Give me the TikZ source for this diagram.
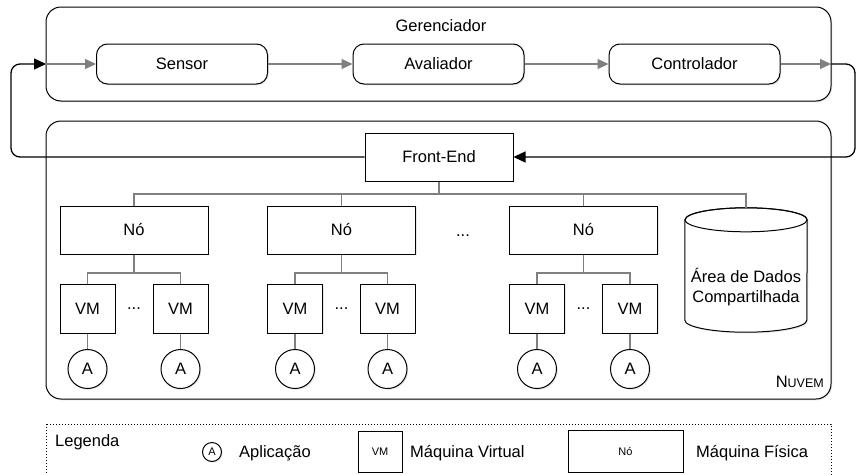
\documentclass[tikz,border=0pt]{standalone}
\usepackage{fontspec}
\setmainfont{Liberation Sans}
\usetikzlibrary{arrows.meta,shadows}
\begin{document}
\begin{tikzpicture}[x=1pt,y=-1pt,
  font=\fontsize{16.5}{20}\selectfont,
  shade/.style={drop shadow={shadow xshift=1.3pt,shadow yshift=-1.3pt,opacity=0.18}},
  box/.style={draw, line width=1pt, fill=white, shade, inner sep=0pt},
  rbox/.style={box, rounded corners=11pt, minimum width=171pt, minimum height=40pt},
  nodebox/.style={box, minimum width=148pt, minimum height=48pt},
  vmbox/.style={box, minimum width=55pt, minimum height=49pt},
  app/.style={box, circle, minimum size=39pt},
  link/.style={draw=black!50, line width=1.1pt},
  garrow/.style={link, -{Triangle[length=11pt,width=10pt]}},
  barrow/.style={draw=black, line width=1.3pt, rounded corners=9pt, -{Triangle[length=12pt,width=11pt]}},
  frame/.style={draw, line width=1pt, rounded corners=15pt, fill=white, shade},
  small/.style={font=\fontsize{11}{13}\selectfont},
]
\useasboundingbox (0,0) rectangle (856,474);

% frames
\draw[frame] (46,7) rectangle (831,101);
\draw[frame] (46,121) rectangle (831,399);
\draw[line width=1pt, dash pattern=on 1.4pt off 1.6pt] (46,424) rectangle (831,492);

% Gerenciador
\node (ger) at (441,26) {Gerenciador};
\node[rbox] (sensor) at (182,64) {Sensor};
\node[rbox] (aval) at (438.5,64) {Avaliador};
\node[rbox] (ctrl) at (694.5,64) {Controlador};
\coordinate (gL) at (46,64);
\coordinate (gR) at (831,64);

% Nuvem
\node[box, minimum width=148pt, minimum height=48pt] (fe) at (439,157) {Front-End};
\node[nodebox] (n1) at (134,230) {Nó};
\node[nodebox] (n2) at (341.5,230) {Nó};
\node[nodebox] (n3) at (583.5,230) {Nó};
\node (d0) at (463,236) {...};

% shared data area (cylinder)
\node[minimum width=122pt, minimum height=124pt, inner sep=0pt] (dados) at (746,270) {};
\path[draw, line width=1pt, fill=white, shade]
  ([yshift=-12pt]dados.north west) -- ([yshift=12pt]dados.south west)
  arc[start angle=180, end angle=360, x radius=61pt, y radius=12pt]
  -- ([yshift=-12pt]dados.north east)
  arc[start angle=0, end angle=180, x radius=61pt, y radius=12pt] -- cycle;
\draw[line width=1pt] ([yshift=-12pt]dados.north) ellipse [x radius=61pt, y radius=12pt];
\node[align=center] (dadostxt) at (746,287) {Área de Dados\\Compartilhada};

\node[vmbox] (vm1) at (87.5,308.5) {VM};
\node[vmbox] (vm2) at (180.5,308.5) {VM};
\node[vmbox] (vm3) at (295,308.5) {VM};
\node[vmbox] (vm4) at (387.5,308.5) {VM};
\node[vmbox] (vm5) at (537,308.5) {VM};
\node[vmbox] (vm6) at (630,308.5) {VM};
\node (d1) at (134,308.5) {...};
\node (d2) at (341.5,308.5) {...};
\node (d3) at (583.5,308.5) {...};

\node[app] (a1) at (87.5,369) {A};
\node[app] (a2) at (180.5,369) {A};
\node[app] (a3) at (295,369) {A};
\node[app] (a4) at (387.5,369) {A};
\node[app] (a5) at (537,369) {A};
\node[app] (a6) at (630,369) {A};

\node[anchor=base east, inner sep=0pt] (nuvem) at (824,387) {N{\fontsize{12.5}{14}\selectfont UVEM}};

% connectors
\coordinate (busy) at (0,194);
\coordinate (vy) at (0,273);
\draw[link] (fe.south) -- (fe.south |- busy);
\draw[link] (n1.north) |- (busy -| dados.north) -- (dados.north);
\draw[link] (n2.north) -- (n2.north |- busy);
\draw[link] (n3.north) -- (n3.north |- busy);

\draw[link] (n1.south) -- (n1.south |- vy);
\draw[link] (vm1.north) |- (vm2.north |- vy) -- (vm2.north);
\draw[link] (n2.south) -- (n2.south |- vy);
\draw[link] (vm3.north) |- (vm4.north |- vy) -- (vm4.north);
\draw[link] (n3.south) -- (n3.south |- vy);
\draw[link] (vm5.north) |- (vm6.north |- vy) -- (vm6.north);

\draw[link] (vm1) -- (a1);
\draw[link] (vm2) -- (a2);
\draw[link] (vm3) -- (a3);
\draw[link] (vm4) -- (a4);
\draw[link] (vm5) -- (a5);
\draw[link] (vm6) -- (a6);

\draw[garrow] (gL) -- (sensor);
\draw[garrow] (sensor) -- (aval);
\draw[garrow] (aval) -- (ctrl);
\draw[garrow] (ctrl) -- (gR);
\draw[barrow] (fe.west) -- (11,157) -- (11,64) -- (gL);
\draw[barrow] (gR) -- (855,64) -- (855,157) -- (fe.east);

% legend
\node[anchor=base west, inner sep=0pt] (leg) at (55,446) {Legenda};
\node[box, circle, minimum size=19pt, small] (la) at (212,452) {A};
\node[anchor=base west, inner sep=0pt] (lat) at (239,457) {Aplicação};
\node[box, minimum width=44pt, minimum height=41pt, small] (lvm) at (380,451.5) {VM};
\node[anchor=base west, inner sep=0pt] (lvmt) at (410,457) {Máquina Virtual};
\node[box, minimum width=115pt, minimum height=42pt, small] (lno) at (625.5,451) {Nó};
\node[anchor=base west, inner sep=0pt] (lnot) at (696,457) {Máquina Física};
\end{tikzpicture}
\end{document}
